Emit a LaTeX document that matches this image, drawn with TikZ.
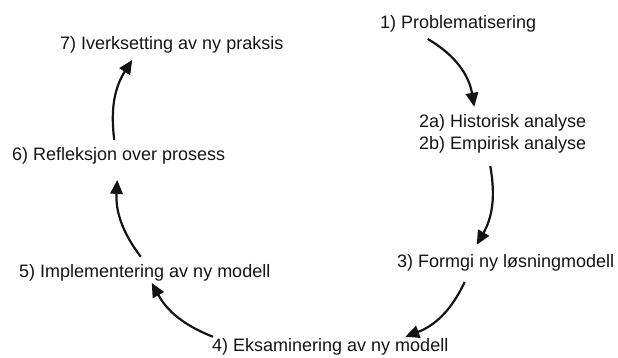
\documentclass[tikz,border=0pt]{standalone}
\usepackage{fontspec}
\setmainfont{Liberation Sans}
\usetikzlibrary{arrows.meta}
\definecolor{ink}{RGB}{20,20,20}
\begin{document}
\begin{tikzpicture}[x=1pt,y=-1pt,
  lbl/.style={anchor=base west,inner sep=0pt,text=ink,font=\fontsize{18}{22}\selectfont},
  conn/.style={draw=ink,fill=ink,line width=2.2pt,-{Triangle[length=14pt,width=12.5pt]}}]
\useasboundingbox (0,0) rectangle (618,358);
\node[lbl] (n1) at (380,29) {1) Problematisering};
\node[lbl] (n2a) at (419,128) {2a) Historisk analyse};
\node[lbl] (n2b) at (419,150) {2b) Empirisk analyse};
\node[lbl] (n3) at (397,267) {3) Formgi ny løsningmodell};
\node[lbl] (n4) at (212,351) {4) Eksaminering av ny modell};
\node[lbl] (n5) at (19,277) {5) Implementering av ny modell};
\node[lbl] (n6) at (12,161) {6) Refleksjon over prosess};
\node[lbl] (n7) at (60,50) {7) Iverksetting av ny praksis};
\draw[conn,fill=none] ([shift={(-30.5,6)}]n1.south) to[bend left=25] ([shift={(-28.5,-8)}]n2a.north);
\draw[conn,fill=none] ([shift={(-12.5,12)}]n2b.south) to[bend left=20] ([shift={(-29,-9)}]n3.north);
\draw[conn,fill=none] ([shift={(-41,11)}]n3.south) to[bend left=22] ([shift={(75,-1)}]n4.north);
\draw[conn,fill=none] ([shift={(1,-1)}]n4.north west) to[bend left=20] ([shift={(7,2)}]n5.south);
\draw[conn,fill=none] ([shift={(-4,-7)}]n5.north) to[bend left=20] ([shift={(-1.5,15)}]n6.south);
\draw[conn,fill=none] ([shift={(-4.5,-8)}]n6.north) to[bend left=20] ([shift={(-39.5,6)}]n7.south);
\end{tikzpicture}
\end{document}
